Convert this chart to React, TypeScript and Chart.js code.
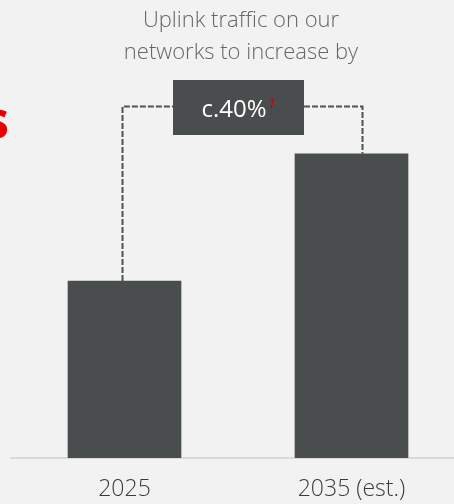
import React, { useEffect, useRef } from "react";
import { Chart, registerables } from "chart.js";

Chart.register(...registerables);

const categories = ["2025", "2035 (est.)"];
const trafficIndex = [100, 172];
const titleLines = ["Uplink traffic on our", "networks to increase by"];
const growthLabel = "c.40%";
const footnoteMark = "1";

const FONT = "'Open Sans', 'Noto Sans', sans-serif";

const overlayPlugin = {
  id: "overlay",
  afterDatasetsDraw(chart: any) {
    const ctx = chart.ctx;
    const meta = chart.getDatasetMeta(0);
    const b1 = meta.data[0];
    const b2 = meta.data[1];
    ctx.save();

    // title
    ctx.fillStyle = "#666666";
    ctx.font = `300 22px ${FONT}`;
    ctx.textAlign = "center";
    ctx.textBaseline = "alphabetic";
    ctx.fillText(titleLines[0], 241, 27);
    ctx.fillText(titleLines[1], 241, 59);

    // red partial glyph at left edge
    ctx.fillStyle = "#e60000";
    ctx.font = `bold 52px ${FONT}`;
    ctx.textAlign = "right";
    ctx.fillText("s", 9, 138);

    // box
    const boxL = 173, boxR = 304, boxT = 80, boxB = 135;
    const lineY = 106.5;

    // dashed connectors
    ctx.strokeStyle = "#4f5252";
    ctx.lineWidth = 2;
    ctx.setLineDash([6, 2]);
    ctx.beginPath();
    const lx = Math.round(b1.x) - 2.5;
    ctx.moveTo(lx, b1.y);
    ctx.lineTo(lx, lineY);
    ctx.lineTo(boxL, lineY);
    ctx.stroke();
    ctx.beginPath();
    const rx = Math.round(b2.x) + 10.5;
    ctx.moveTo(boxR, lineY);
    ctx.lineTo(rx, lineY);
    ctx.lineTo(rx, b2.y);
    ctx.stroke();
    ctx.setLineDash([]);

    ctx.fillStyle = "#4a4d4e";
    ctx.fillRect(boxL, boxT, boxR - boxL, boxB - boxT);

    ctx.fillStyle = "#ffffff";
    ctx.font = `400 24px ${FONT}`;
    ctx.textAlign = "left";
    ctx.textBaseline = "alphabetic";
    const w = ctx.measureText(growthLabel).width;
    const tx = 234 - w / 2;
    ctx.fillText(growthLabel, tx, 117);
    ctx.fillStyle = "#cc0000";
    ctx.font = `italic 400 15px ${FONT}`;
    ctx.fillText(footnoteMark, tx + w + 1, 108);

    ctx.restore();
  },
};

export default function App() {
  const ref = useRef<HTMLCanvasElement | null>(null);

  useEffect(() => {
    if (!ref.current) return;
    const chart = new Chart(ref.current, {
      type: "bar",
      data: {
        labels: categories,
        datasets: [
          {
            data: trafficIndex,
            backgroundColor: "#4a4d4e",
            borderWidth: 0,
            barThickness: 113,
          },
        ],
      },
      options: {
        responsive: false,
        animation: false,
        layout: { padding: { left: 11, right: 5, top: 60, bottom: 0 } },
        plugins: {
          legend: { display: false },
          title: { display: false },
          tooltip: { enabled: false },
        },
        scales: {
          x: {
            grid: { display: false, drawTicks: false },
            border: { display: true, color: "#dadada", width: 2 },
            ticks: {
              color: "#3a3a3a",
              font: { family: FONT, size: 23, weight: "300" as any },
              padding: 18,
            },
            afterFit(scale: any) {
              scale.height = 46;
            },
          },
          y: {
            display: false,
            min: 0,
            max: 225,
          },
        },
      },
      plugins: [overlayPlugin],
    });
    return () => chart.destroy();
  }, []);

  return (
    <div
      style={{
        position: "fixed",
        left: 0,
        top: 0,
        width: 454,
        height: 504,
        overflow: "hidden",
        background: "#f2f2f2",
      }}
    >
      <canvas ref={ref} width={470} height={504} style={{ display: "block" }} />
    </div>
  );
}
